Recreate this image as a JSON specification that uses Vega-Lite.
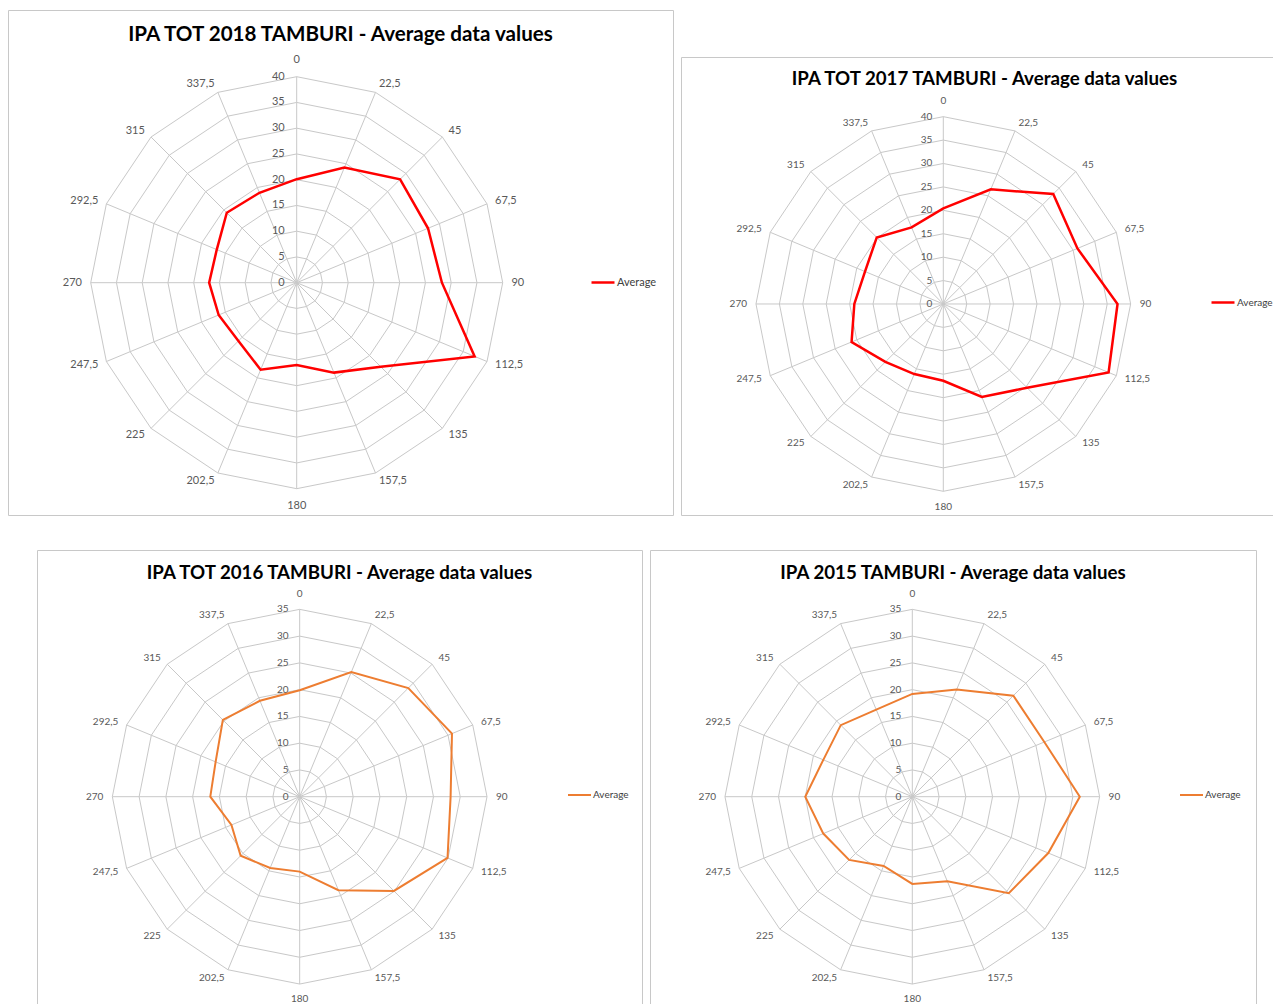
{
  "$schema": "https://vega.github.io/schema/vega-lite/v6.json",
  "background": "white",
  "padding": {"left": 7, "top": 9, "right": 0, "bottom": 0},
  "spacing": 33,
  "resolve": {"scale": {"color": "independent"}, "legend": {"color": "independent"}},
  "datasets": {
    "grid40": [
      {"a": 0, "r": [0,5,10,15,20,25,30,35,40]},
      {"a": 22.5, "r": [0,5,10,15,20,25,30,35,40]},
      {"a": 45, "r": [0,5,10,15,20,25,30,35,40]},
      {"a": 67.5, "r": [0,5,10,15,20,25,30,35,40]},
      {"a": 90, "r": [0,5,10,15,20,25,30,35,40]},
      {"a": 112.5, "r": [0,5,10,15,20,25,30,35,40]},
      {"a": 135, "r": [0,5,10,15,20,25,30,35,40]},
      {"a": 157.5, "r": [0,5,10,15,20,25,30,35,40]},
      {"a": 180, "r": [0,5,10,15,20,25,30,35,40]},
      {"a": 202.5, "r": [0,5,10,15,20,25,30,35,40]},
      {"a": 225, "r": [0,5,10,15,20,25,30,35,40]},
      {"a": 247.5, "r": [0,5,10,15,20,25,30,35,40]},
      {"a": 270, "r": [0,5,10,15,20,25,30,35,40]},
      {"a": 292.5, "r": [0,5,10,15,20,25,30,35,40]},
      {"a": 315, "r": [0,5,10,15,20,25,30,35,40]},
      {"a": 337.5, "r": [0,5,10,15,20,25,30,35,40]}
    ],
    "grid35": [
      {"a": 0, "r": [0,5,10,15,20,25,30,35]},
      {"a": 22.5, "r": [0,5,10,15,20,25,30,35]},
      {"a": 45, "r": [0,5,10,15,20,25,30,35]},
      {"a": 67.5, "r": [0,5,10,15,20,25,30,35]},
      {"a": 90, "r": [0,5,10,15,20,25,30,35]},
      {"a": 112.5, "r": [0,5,10,15,20,25,30,35]},
      {"a": 135, "r": [0,5,10,15,20,25,30,35]},
      {"a": 157.5, "r": [0,5,10,15,20,25,30,35]},
      {"a": 180, "r": [0,5,10,15,20,25,30,35]},
      {"a": 202.5, "r": [0,5,10,15,20,25,30,35]},
      {"a": 225, "r": [0,5,10,15,20,25,30,35]},
      {"a": 247.5, "r": [0,5,10,15,20,25,30,35]},
      {"a": 270, "r": [0,5,10,15,20,25,30,35]},
      {"a": 292.5, "r": [0,5,10,15,20,25,30,35]},
      {"a": 315, "r": [0,5,10,15,20,25,30,35]},
      {"a": 337.5, "r": [0,5,10,15,20,25,30,35]}
    ],
    "lab": [
      {"a": 0, "t": "0"}, {"a": 22.5, "t": "22,5"}, {"a": 45, "t": "45"}, {"a": 67.5, "t": "67,5"},
      {"a": 90, "t": "90"}, {"a": 112.5, "t": "112,5"}, {"a": 135, "t": "135"}, {"a": 157.5, "t": "157,5"},
      {"a": 180, "t": "180"}, {"a": 202.5, "t": "202,5"}, {"a": 225, "t": "225"}, {"a": 247.5, "t": "247,5"},
      {"a": 270, "t": "270"}, {"a": 292.5, "t": "292,5"}, {"a": 315, "t": "315"}, {"a": 337.5, "t": "337,5"}
    ],
    "avg": [
      {"c": "2018", "s": "Average", "a": 0, "v": 20.1},
      {"c": "2018", "s": "Average", "a": 22.5, "v": 24.2},
      {"c": "2018", "s": "Average", "a": 45, "v": 28.4},
      {"c": "2018", "s": "Average", "a": 67.5, "v": 27.6},
      {"c": "2018", "s": "Average", "a": 90, "v": 28.2},
      {"c": "2018", "s": "Average", "a": 112.5, "v": 37.4},
      {"c": "2018", "s": "Average", "a": 135, "v": 23.1},
      {"c": "2018", "s": "Average", "a": 157.5, "v": 18.9},
      {"c": "2018", "s": "Average", "a": 180, "v": 16.0},
      {"c": "2018", "s": "Average", "a": 202.5, "v": 18.3},
      {"c": "2018", "s": "Average", "a": 225, "v": 16.0},
      {"c": "2018", "s": "Average", "a": 247.5, "v": 16.4},
      {"c": "2018", "s": "Average", "a": 270, "v": 17.0},
      {"c": "2018", "s": "Average", "a": 292.5, "v": 16.8},
      {"c": "2018", "s": "Average", "a": 315, "v": 19.2},
      {"c": "2018", "s": "Average", "a": 337.5, "v": 18.9},
      {"c": "2017", "s": "Average", "a": 0, "v": 20.4},
      {"c": "2017", "s": "Average", "a": 22.5, "v": 26.5},
      {"c": "2017", "s": "Average", "a": 45, "v": 33.2},
      {"c": "2017", "s": "Average", "a": 67.5, "v": 31.0},
      {"c": "2017", "s": "Average", "a": 90, "v": 37.2},
      {"c": "2017", "s": "Average", "a": 112.5, "v": 38.2},
      {"c": "2017", "s": "Average", "a": 135, "v": 25.3},
      {"c": "2017", "s": "Average", "a": 157.5, "v": 21.5},
      {"c": "2017", "s": "Average", "a": 180, "v": 16.4},
      {"c": "2017", "s": "Average", "a": 202.5, "v": 16.2},
      {"c": "2017", "s": "Average", "a": 225, "v": 17.5},
      {"c": "2017", "s": "Average", "a": 247.5, "v": 21.2},
      {"c": "2017", "s": "Average", "a": 270, "v": 19.0},
      {"c": "2017", "s": "Average", "a": 292.5, "v": 18.1},
      {"c": "2017", "s": "Average", "a": 315, "v": 20.1},
      {"c": "2017", "s": "Average", "a": 337.5, "v": 17.7},
      {"c": "2016", "s": "Average", "a": 0, "v": 19.9},
      {"c": "2016", "s": "Average", "a": 22.5, "v": 25.2},
      {"c": "2016", "s": "Average", "a": 45, "v": 28.7},
      {"c": "2016", "s": "Average", "a": 67.5, "v": 30.8},
      {"c": "2016", "s": "Average", "a": 90, "v": 28.2},
      {"c": "2016", "s": "Average", "a": 112.5, "v": 29.9},
      {"c": "2016", "s": "Average", "a": 135, "v": 24.9},
      {"c": "2016", "s": "Average", "a": 157.5, "v": 18.9},
      {"c": "2016", "s": "Average", "a": 180, "v": 14.0},
      {"c": "2016", "s": "Average", "a": 202.5, "v": 14.4},
      {"c": "2016", "s": "Average", "a": 225, "v": 15.6},
      {"c": "2016", "s": "Average", "a": 247.5, "v": 13.8},
      {"c": "2016", "s": "Average", "a": 270, "v": 16.7},
      {"c": "2016", "s": "Average", "a": 292.5, "v": 17.0},
      {"c": "2016", "s": "Average", "a": 315, "v": 20.3},
      {"c": "2016", "s": "Average", "a": 337.5, "v": 19.4},
      {"c": "2015", "s": "Average", "a": 0, "v": 19.2},
      {"c": "2015", "s": "Average", "a": 22.5, "v": 21.7},
      {"c": "2015", "s": "Average", "a": 45, "v": 26.7},
      {"c": "2015", "s": "Average", "a": 67.5, "v": 26.7},
      {"c": "2015", "s": "Average", "a": 90, "v": 31.3},
      {"c": "2015", "s": "Average", "a": 112.5, "v": 27.5},
      {"c": "2015", "s": "Average", "a": 135, "v": 25.5},
      {"c": "2015", "s": "Average", "a": 157.5, "v": 17.1},
      {"c": "2015", "s": "Average", "a": 180, "v": 16.3},
      {"c": "2015", "s": "Average", "a": 202.5, "v": 14.0},
      {"c": "2015", "s": "Average", "a": 225, "v": 16.7},
      {"c": "2015", "s": "Average", "a": 247.5, "v": 18.0},
      {"c": "2015", "s": "Average", "a": 270, "v": 20.0},
      {"c": "2015", "s": "Average", "a": 292.5, "v": 18.0},
      {"c": "2015", "s": "Average", "a": 315, "v": 18.9},
      {"c": "2015", "s": "Average", "a": 337.5, "v": 17.6}
    ]
  },
  "vconcat": [
    {
      "hconcat": [
        {
          "width": 665, "height": 505,
          "title": {"text": "IPA TOT 2018 TAMBURI - Average data values", "fontSize": 20.6, "offset": -36},
          "encoding": {
            "x": {"field": "x", "type": "quantitative", "scale": {"domain": [-56.06, 73.07], "nice": false, "zero": false}, "axis": null},
            "y": {"field": "y", "type": "quantitative", "scale": {"domain": [-45.11, 52.95], "nice": false, "zero": false}, "axis": null}
          },
          "layer": [
            {"data": {"name": "grid40"},
             "transform": [{"flatten": ["r"]}, {"calculate": "datum.r*sin(datum.a*PI/180)", "as": "x"}, {"calculate": "datum.r*cos(datum.a*PI/180)", "as": "y"}],
             "mark": {"type": "line", "interpolate": "linear-closed", "stroke": "#c8c8c8", "strokeWidth": 1},
             "encoding": {"detail": {"field": "r", "type": "nominal"}, "order": {"field": "a", "type": "quantitative"}}},
            {"data": {"name": "grid40"},
             "transform": [{"flatten": ["r"]}, {"calculate": "datum.r*sin(datum.a*PI/180)", "as": "x"}, {"calculate": "datum.r*cos(datum.a*PI/180)", "as": "y"}],
             "mark": {"type": "line", "stroke": "#c8c8c8", "strokeWidth": 1},
             "encoding": {"detail": {"field": "a", "type": "nominal"}, "order": {"field": "r", "type": "quantitative"}}},
            {"data": {"name": "grid40"},
             "transform": [{"flatten": ["r"]}, {"filter": "datum.a == 0"}, {"calculate": "0", "as": "x"}, {"calculate": "datum.r", "as": "y"}],
             "mark": {"type": "text", "align": "right", "dx": -12, "fontSize": 11, "color": "#595959"},
             "encoding": {"text": {"field": "r", "type": "nominal"}}},
            {"data": {"name": "lab"},
             "transform": [{"filter": "datum.a > 0 && datum.a < 180"}, {"calculate": "41.7*sin(datum.a*PI/180)", "as": "x"}, {"calculate": "41.7*cos(datum.a*PI/180)", "as": "y"}],
             "mark": {"type": "text", "align": "left", "fontSize": 11, "color": "#595959"},
             "encoding": {"text": {"field": "t", "type": "nominal"}}},
            {"data": {"name": "lab"},
             "transform": [{"filter": "datum.a > 180"}, {"calculate": "41.7*sin(datum.a*PI/180)", "as": "x"}, {"calculate": "41.7*cos(datum.a*PI/180)", "as": "y"}],
             "mark": {"type": "text", "align": "right", "fontSize": 11, "color": "#595959"},
             "encoding": {"text": {"field": "t", "type": "nominal"}}},
            {"data": {"name": "lab"},
             "transform": [{"filter": "datum.a == 0 || datum.a == 180"}, {"calculate": "43.3*sin(datum.a*PI/180)", "as": "x"}, {"calculate": "43.3*cos(datum.a*PI/180)", "as": "y"}],
             "mark": {"type": "text", "align": "center", "fontSize": 11, "color": "#595959"},
             "encoding": {"text": {"field": "t", "type": "nominal"}}},
            {"data": {"name": "avg"},
             "transform": [{"filter": "datum.c == '2018'"}, {"calculate": "datum.v*sin(datum.a*PI/180)", "as": "x"}, {"calculate": "datum.v*cos(datum.a*PI/180)", "as": "y"}],
             "mark": {"type": "line", "interpolate": "linear-closed", "strokeWidth": 2.5},
             "encoding": {
               "order": {"field": "a", "type": "quantitative"},
               "color": {"field": "s", "type": "nominal", "scale": {"range": ["#ff0000"]},
                 "legend": {"orient": "none", "legendX": 582, "legendY": 259.5, "title": null, "symbolType": "stroke", "symbolSize": 529, "symbolStrokeWidth": 2.5, "labelFontSize": 11, "labelOffset": 1, "padding": 0}}
             }}
          ]
        },
        {
          "vconcat": [
            {"data": {"values": [{}]}, "mark": {"type": "point", "opacity": 0, "size": 1}, "width": 10, "height": 46, "view": {"stroke": null}},
            {
              "width": 607, "height": 458,
              "title": {"text": "IPA TOT 2017 TAMBURI - Average data values", "fontSize": 18.7, "offset": -32},
              "encoding": {
                "x": {"field": "x", "type": "quantitative", "scale": {"domain": [-56.01, 73.6], "nice": false, "zero": false}, "axis": null},
                "y": {"field": "y", "type": "quantitative", "scale": {"domain": [-45.06, 52.74], "nice": false, "zero": false}, "axis": null}
              },
              "layer": [
                {"data": {"name": "grid40"},
                 "transform": [{"flatten": ["r"]}, {"calculate": "datum.r*sin(datum.a*PI/180)", "as": "x"}, {"calculate": "datum.r*cos(datum.a*PI/180)", "as": "y"}],
                 "mark": {"type": "line", "interpolate": "linear-closed", "stroke": "#c8c8c8", "strokeWidth": 1},
                 "encoding": {"detail": {"field": "r", "type": "nominal"}, "order": {"field": "a", "type": "quantitative"}}},
                {"data": {"name": "grid40"},
                 "transform": [{"flatten": ["r"]}, {"calculate": "datum.r*sin(datum.a*PI/180)", "as": "x"}, {"calculate": "datum.r*cos(datum.a*PI/180)", "as": "y"}],
                 "mark": {"type": "line", "stroke": "#c8c8c8", "strokeWidth": 1},
                 "encoding": {"detail": {"field": "a", "type": "nominal"}, "order": {"field": "r", "type": "quantitative"}}},
                {"data": {"name": "grid40"},
                 "transform": [{"flatten": ["r"]}, {"filter": "datum.a == 0"}, {"calculate": "0", "as": "x"}, {"calculate": "datum.r", "as": "y"}],
                 "mark": {"type": "text", "align": "right", "dx": -11, "fontSize": 10, "color": "#595959"},
                 "encoding": {"text": {"field": "r", "type": "nominal"}}},
                {"data": {"name": "lab"},
                 "transform": [{"filter": "datum.a > 0 && datum.a < 180"}, {"calculate": "41.92*sin(datum.a*PI/180)", "as": "x"}, {"calculate": "41.92*cos(datum.a*PI/180)", "as": "y"}],
                 "mark": {"type": "text", "align": "left", "fontSize": 10, "color": "#595959"},
                 "encoding": {"text": {"field": "t", "type": "nominal"}}},
                {"data": {"name": "lab"},
                 "transform": [{"filter": "datum.a > 180"}, {"calculate": "41.92*sin(datum.a*PI/180)", "as": "x"}, {"calculate": "41.92*cos(datum.a*PI/180)", "as": "y"}],
                 "mark": {"type": "text", "align": "right", "fontSize": 10, "color": "#595959"},
                 "encoding": {"text": {"field": "t", "type": "nominal"}}},
                {"data": {"name": "lab"},
                 "transform": [{"filter": "datum.a == 0 || datum.a == 180"}, {"calculate": "43.3*sin(datum.a*PI/180)", "as": "x"}, {"calculate": "43.3*cos(datum.a*PI/180)", "as": "y"}],
                 "mark": {"type": "text", "align": "center", "fontSize": 10, "color": "#595959"},
                 "encoding": {"text": {"field": "t", "type": "nominal"}}},
                {"data": {"name": "avg"},
                 "transform": [{"filter": "datum.c == '2017'"}, {"calculate": "datum.v*sin(datum.a*PI/180)", "as": "x"}, {"calculate": "datum.v*cos(datum.a*PI/180)", "as": "y"}],
                 "mark": {"type": "line", "interpolate": "linear-closed", "strokeWidth": 2.5},
                 "encoding": {
                   "order": {"field": "a", "type": "quantitative"},
                   "color": {"field": "s", "type": "nominal", "scale": {"range": ["#ff0000"]},
                     "legend": {"orient": "none", "legendX": 529, "legendY": 232.5, "title": null, "symbolType": "stroke", "symbolSize": 529, "symbolStrokeWidth": 2.5, "labelFontSize": 10, "labelOffset": 1, "padding": 0}}
                 }}
              ]
            }
          ],
          "spacing": 0,
          "resolve": {"scale": {"color": "independent"}, "legend": {"color": "independent"}}
        }
      ],
      "spacing": 6,
      "resolve": {"scale": {"color": "independent"}, "legend": {"color": "independent"}}
    },
    {
      "hconcat": [
        {"data": {"values": [{}]}, "mark": {"type": "point", "opacity": 0, "size": 1}, "width": 22, "height": 1, "view": {"stroke": null}},
        {
          "width": 605, "height": 454,
          "title": {"text": "IPA TOT 2016 TAMBURI - Average data values", "fontSize": 18.7, "offset": -33},
          "encoding": {
            "x": {"field": "x", "type": "quantitative", "scale": {"domain": [-49.08, 63.96], "nice": false, "zero": false}, "axis": null},
            "y": {"field": "y", "type": "quantitative", "scale": {"domain": [-38.73, 46.09], "nice": false, "zero": false}, "axis": null}
          },
          "layer": [
            {"data": {"name": "grid35"},
             "transform": [{"flatten": ["r"]}, {"calculate": "datum.r*sin(datum.a*PI/180)", "as": "x"}, {"calculate": "datum.r*cos(datum.a*PI/180)", "as": "y"}],
             "mark": {"type": "line", "interpolate": "linear-closed", "stroke": "#c8c8c8", "strokeWidth": 1},
             "encoding": {"detail": {"field": "r", "type": "nominal"}, "order": {"field": "a", "type": "quantitative"}}},
            {"data": {"name": "grid35"},
             "transform": [{"flatten": ["r"]}, {"calculate": "datum.r*sin(datum.a*PI/180)", "as": "x"}, {"calculate": "datum.r*cos(datum.a*PI/180)", "as": "y"}],
             "mark": {"type": "line", "stroke": "#c8c8c8", "strokeWidth": 1},
             "encoding": {"detail": {"field": "a", "type": "nominal"}, "order": {"field": "r", "type": "quantitative"}}},
            {"data": {"name": "grid35"},
             "transform": [{"flatten": ["r"]}, {"filter": "datum.a == 0"}, {"calculate": "0", "as": "x"}, {"calculate": "datum.r", "as": "y"}],
             "mark": {"type": "text", "align": "right", "dx": -11, "fontSize": 10, "color": "#595959"},
             "encoding": {"text": {"field": "r", "type": "nominal"}}},
            {"data": {"name": "lab"},
             "transform": [{"filter": "datum.a > 0 && datum.a < 180"}, {"calculate": "36.68*sin(datum.a*PI/180)", "as": "x"}, {"calculate": "36.68*cos(datum.a*PI/180)", "as": "y"}],
             "mark": {"type": "text", "align": "left", "fontSize": 10, "color": "#595959"},
             "encoding": {"text": {"field": "t", "type": "nominal"}}},
            {"data": {"name": "lab"},
             "transform": [{"filter": "datum.a > 180"}, {"calculate": "36.68*sin(datum.a*PI/180)", "as": "x"}, {"calculate": "36.68*cos(datum.a*PI/180)", "as": "y"}],
             "mark": {"type": "text", "align": "right", "fontSize": 10, "color": "#595959"},
             "encoding": {"text": {"field": "t", "type": "nominal"}}},
            {"data": {"name": "lab"},
             "transform": [{"filter": "datum.a == 0 || datum.a == 180"}, {"calculate": "37.8*sin(datum.a*PI/180)", "as": "x"}, {"calculate": "37.8*cos(datum.a*PI/180)", "as": "y"}],
             "mark": {"type": "text", "align": "center", "fontSize": 10, "color": "#595959"},
             "encoding": {"text": {"field": "t", "type": "nominal"}}},
            {"data": {"name": "avg"},
             "transform": [{"filter": "datum.c == '2016'"}, {"calculate": "datum.v*sin(datum.a*PI/180)", "as": "x"}, {"calculate": "datum.v*cos(datum.a*PI/180)", "as": "y"}],
             "mark": {"type": "line", "interpolate": "linear-closed", "strokeWidth": 2},
             "encoding": {
               "order": {"field": "a", "type": "quantitative"},
               "color": {"field": "s", "type": "nominal", "scale": {"range": ["#ed7d31"]},
                 "legend": {"orient": "none", "legendX": 530, "legendY": 232.5, "title": null, "symbolType": "stroke", "symbolSize": 529, "symbolStrokeWidth": 2, "labelFontSize": 10, "labelOffset": 1, "padding": 0}}
             }}
          ]
        },
        {
          "width": 606, "height": 454,
          "title": {"text": "IPA 2015 TAMBURI - Average data values", "fontSize": 18.7, "offset": -33},
          "encoding": {
            "x": {"field": "x", "type": "quantitative", "scale": {"domain": [-49.01, 64.22], "nice": false, "zero": false}, "axis": null},
            "y": {"field": "y", "type": "quantitative", "scale": {"domain": [-38.73, 46.09], "nice": false, "zero": false}, "axis": null}
          },
          "layer": [
            {"data": {"name": "grid35"},
             "transform": [{"flatten": ["r"]}, {"calculate": "datum.r*sin(datum.a*PI/180)", "as": "x"}, {"calculate": "datum.r*cos(datum.a*PI/180)", "as": "y"}],
             "mark": {"type": "line", "interpolate": "linear-closed", "stroke": "#c8c8c8", "strokeWidth": 1},
             "encoding": {"detail": {"field": "r", "type": "nominal"}, "order": {"field": "a", "type": "quantitative"}}},
            {"data": {"name": "grid35"},
             "transform": [{"flatten": ["r"]}, {"calculate": "datum.r*sin(datum.a*PI/180)", "as": "x"}, {"calculate": "datum.r*cos(datum.a*PI/180)", "as": "y"}],
             "mark": {"type": "line", "stroke": "#c8c8c8", "strokeWidth": 1},
             "encoding": {"detail": {"field": "a", "type": "nominal"}, "order": {"field": "r", "type": "quantitative"}}},
            {"data": {"name": "grid35"},
             "transform": [{"flatten": ["r"]}, {"filter": "datum.a == 0"}, {"calculate": "0", "as": "x"}, {"calculate": "datum.r", "as": "y"}],
             "mark": {"type": "text", "align": "right", "dx": -11, "fontSize": 10, "color": "#595959"},
             "encoding": {"text": {"field": "r", "type": "nominal"}}},
            {"data": {"name": "lab"},
             "transform": [{"filter": "datum.a > 0 && datum.a < 180"}, {"calculate": "36.68*sin(datum.a*PI/180)", "as": "x"}, {"calculate": "36.68*cos(datum.a*PI/180)", "as": "y"}],
             "mark": {"type": "text", "align": "left", "fontSize": 10, "color": "#595959"},
             "encoding": {"text": {"field": "t", "type": "nominal"}}},
            {"data": {"name": "lab"},
             "transform": [{"filter": "datum.a > 180"}, {"calculate": "36.68*sin(datum.a*PI/180)", "as": "x"}, {"calculate": "36.68*cos(datum.a*PI/180)", "as": "y"}],
             "mark": {"type": "text", "align": "right", "fontSize": 10, "color": "#595959"},
             "encoding": {"text": {"field": "t", "type": "nominal"}}},
            {"data": {"name": "lab"},
             "transform": [{"filter": "datum.a == 0 || datum.a == 180"}, {"calculate": "37.8*sin(datum.a*PI/180)", "as": "x"}, {"calculate": "37.8*cos(datum.a*PI/180)", "as": "y"}],
             "mark": {"type": "text", "align": "center", "fontSize": 10, "color": "#595959"},
             "encoding": {"text": {"field": "t", "type": "nominal"}}},
            {"data": {"name": "avg"},
             "transform": [{"filter": "datum.c == '2015'"}, {"calculate": "datum.v*sin(datum.a*PI/180)", "as": "x"}, {"calculate": "datum.v*cos(datum.a*PI/180)", "as": "y"}],
             "mark": {"type": "line", "interpolate": "linear-closed", "strokeWidth": 2},
             "encoding": {
               "order": {"field": "a", "type": "quantitative"},
               "color": {"field": "s", "type": "nominal", "scale": {"range": ["#ed7d31"]},
                 "legend": {"orient": "none", "legendX": 529, "legendY": 232.5, "title": null, "symbolType": "stroke", "symbolSize": 529, "symbolStrokeWidth": 2, "labelFontSize": 10, "labelOffset": 1, "padding": 0}}
             }}
          ]
        }
      ],
      "spacing": 6,
      "resolve": {"scale": {"color": "independent"}, "legend": {"color": "independent"}}
    }
  ],
  "config": {
    "font": "Lato",
    "view": {"stroke": "#c8c8c8", "strokeWidth": 1},
    "title": {"font": "Lato", "fontWeight": "bold", "color": "#000000", "anchor": "middle", "frame": "group"},
    "text": {"font": "Lato"},
    "legend": {"labelFont": "Lato", "labelColor": "#404040"}
  }
}
